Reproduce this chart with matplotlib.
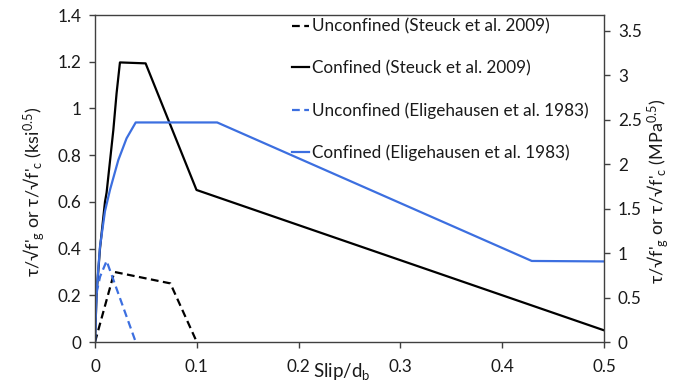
import matplotlib
matplotlib.use("Agg")
import matplotlib.pyplot as plt

plt.rcParams['font.family'] = ['Lato', 'DejaVu Sans']
plt.rcParams['mathtext.fontset'] = 'custom'
plt.rcParams['mathtext.rm'] = 'Lato'
plt.rcParams['mathtext.it'] = 'Lato:italic'

# Bond stress-slip models (normalised slip vs normalised bond stress, ksi^0.5)
steuck_unconf_x = [0.0, 0.019, 0.074, 0.100]
steuck_unconf_y = [0.0, 0.300, 0.251, 0.0]

steuck_conf_x = [0.0, 0.0016, 0.0049, 0.0098, 0.0114, 0.018, 0.0212, 0.0245, 0.0497, 0.0997, 0.5]
steuck_conf_y = [0.0, 0.21, 0.40, 0.60, 0.64, 0.907, 1.065, 1.197, 1.193, 0.651, 0.05]

elig_unconf_x = [0.0, 0.0008, 0.002, 0.005, 0.0114, 0.040]
elig_unconf_y = [0.0, 0.16, 0.22, 0.28, 0.347, 0.0]

elig_conf_x = [0.0, 0.0016, 0.0049, 0.0098, 0.0147, 0.0229, 0.031, 0.040, 0.120, 0.429, 0.5]
elig_conf_y = [0.0, 0.22, 0.408, 0.56, 0.651, 0.779, 0.872, 0.940, 0.940, 0.347, 0.345]

labels = ["Unconfined (Steuck et al. 2009)",
          "Confined (Steuck et al. 2009)",
          "Unconfined (Eligehausen et al. 1983)",
          "Confined (Eligehausen et al. 1983)"]

x_ticks = [0, 0.1, 0.2, 0.3, 0.4, 0.5]
x_ticklabels = ["0", "0.1", "0.2", "0.3", "0.4", "0.5"]
left_ticks = [0, 0.2, 0.4, 0.6, 0.8, 1, 1.2, 1.4]
left_ticklabels = ["0", "0.2", "0.4", "0.6", "0.8", "1", "1.2", "1.4"]
right_ticks = [0, 0.5, 1, 1.5, 2, 2.5, 3, 3.5]
right_ticklabels = ["0", "0.5", "1", "1.5", "2", "2.5", "3", "3.5"]
KSI_TO_MPA = 2.626  # sqrt(6.895)

blue = '#3c6fe0'
text_color = '#1a1a1a'

fig = plt.figure(figsize=(6.81, 3.91), dpi=100)
ax = fig.add_axes([0.1395, 0.1253, 0.7475, 0.8363])

ax.plot(steuck_unconf_x, steuck_unconf_y, color='black', lw=1.6, ls=(0, (3.5, 2)), label=labels[0])
ax.plot(steuck_conf_x, steuck_conf_y, color='black', lw=1.6, label=labels[1])
ax.plot(elig_unconf_x, elig_unconf_y, color=blue, lw=1.6, ls=(0, (3.5, 2)), label=labels[2])
ax.plot(elig_conf_x, elig_conf_y, color=blue, lw=1.6, label=labels[3])

ax.set_xlim(0, 0.5)
ax.set_ylim(0, 1.4)
ax.set_xticks(x_ticks)
ax.set_xticklabels(x_ticklabels)
ax.set_yticks(left_ticks)
ax.set_yticklabels(left_ticklabels)
for s in ax.spines.values():
    s.set_color('#404040')
    s.set_linewidth(1.0)
ax.tick_params(axis='both', direction='out', length=4, width=1.0, color='#404040',
               labelsize=12.3, labelcolor=text_color)
ax.tick_params(axis='x', pad=8)
ax.tick_params(axis='y', pad=6)

ax.set_ylabel(r"τ/√f'$\mathregular{_g}$ or τ/√f'$\mathregular{_c}$ (ksi$\mathregular{^{0.5}}$)",
              fontsize=13, color=text_color)
ax.yaxis.set_label_coords(-0.095, 0.46)
ax.text(0.485, -0.09, r"Slip/d$\mathregular{_b}$", transform=ax.transAxes,
        fontsize=13.5, ha='center', va='center', color=text_color)

ax2 = ax.twinx()
ax2.set_ylim(0, 1.4 * KSI_TO_MPA)
ax2.set_yticks(right_ticks)
ax2.set_yticklabels(right_ticklabels)
for s in ax2.spines.values():
    s.set_visible(False)
ax2.tick_params(axis='y', direction='out', length=4, width=1.0, color='#404040',
                labelsize=12.3, labelcolor=text_color, pad=6)
ax2.set_ylabel(r"τ/√f'$\mathregular{_g}$ or τ/√f'$\mathregular{_c}$ (MPa$\mathregular{^{0.5}}$)",
               fontsize=13, color=text_color)
ax2.yaxis.set_label_coords(1.082, 0.46)

leg = ax.legend(loc='upper left', bbox_to_anchor=(0.373, 1.01), frameon=False,
                fontsize=12.3, handlelength=1.0, handletextpad=0.2, labelspacing=1.5,
                borderaxespad=0)
for t in leg.get_texts():
    t.set_color(text_color)

fig.savefig('out.png', dpi=100)
